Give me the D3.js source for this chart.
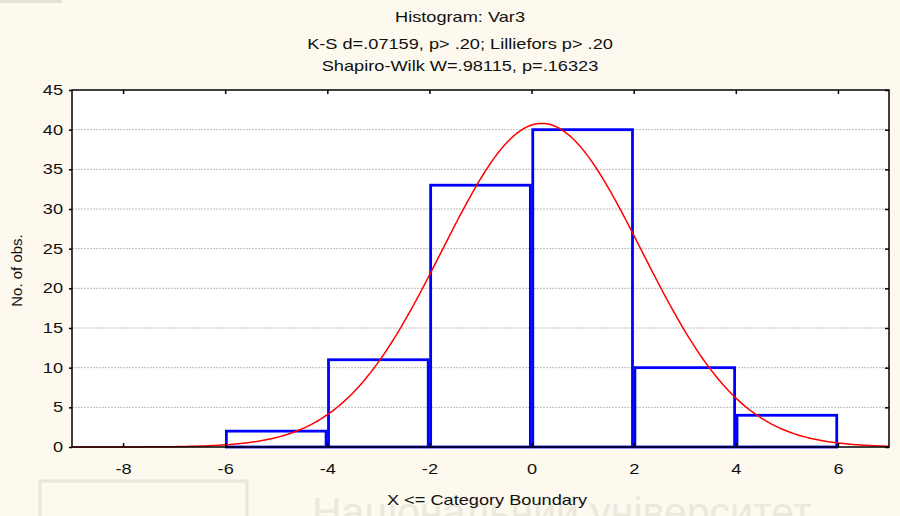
<!DOCTYPE html>
<html>
<head>
<meta charset="utf-8">
<script src="https://cdn.jsdelivr.net/npm/d3@7"></script>
<style>
  body { margin: 0; background: #fdf9ef; }
  text { font-family: "Liberation Sans", Arial, sans-serif; fill: #111; }
</style>
</head>
<body>
<script>
// histogram bins (upper boundary is the category boundary)
const binStart = [-6, -4, -2, 0, 2, 4];
const binEnd = [-4, -2, 0, 2, 4, 6];
const counts = [2, 11, 33, 40, 10, 4];

const xTicks = [-8, -6, -4, -2, 0, 2, 4, 6];
const yTicks = [0, 5, 10, 15, 20, 25, 30, 35, 40, 45];

// fitted normal curve parameters
const fitMean = 0.2;
const fitSd = 1.956;
const nObs = 100;
const binWidth = 2;

const titles = [
  'Histogram: Var3',
  'K-S d=.07159, p> .20; Lilliefors p> .20',
  'Shapiro-Wilk W=.98115, p=.16323'
];

const W = 900, H = 516;
const margin = {top: 90, right: 11, bottom: 69, left: 72};
const w = W - margin.left - margin.right;
const h = H - margin.top - margin.bottom;
// the original picture is stretched sideways, so is the text
const stretch = 1.3;

const svg = d3.select('body').append('svg')
  .attr('width', W)
  .attr('height', H);

svg.append('rect')
  .attr('x', 0).attr('y', 0).attr('width', 62).attr('height', 3)
  .attr('fill', '#e4e0d6');

// faint watermark at the bottom of the scan
const wm = svg.append('g').attr('class', 'watermark');
wm.append('rect')
  .attr('x', 40).attr('y', 481).attr('width', 207).attr('height', 60)
  .attr('fill', 'none').attr('stroke', '#ebe6da').attr('stroke-width', 3);
wm.append('text')
  .attr('x', 312).attr('y', 526)
  .style('font-size', '41px')
  .style('fill', '#ece8dd')
  .text('Національний університет');

const g = svg.append('g')
  .attr('transform', `translate(${margin.left},${margin.top})`);

const x = d3.scaleLinear().domain([-9, 7]).range([0, w]);
const y = d3.scaleLinear().domain([0, 45]).range([h, 0]);

// plot background
g.append('rect')
  .attr('width', w).attr('height', h)
  .attr('fill', '#fff');

// grid lines
g.selectAll('.grid')
  .data(yTicks.filter(d => d > 0 && d < 45))
  .enter().append('line')
  .attr('x1', 0).attr('x2', w)
  .attr('y1', d => y(d)).attr('y2', d => y(d))
  .attr('stroke', '#bdbdbd')
  .attr('stroke-width', 1)
  .attr('stroke-dasharray', '2,1');

// bars
g.selectAll('.bar')
  .data(counts)
  .enter().append('rect')
  .attr('x', (d, i) => x(binStart[i]) + 1.2)
  .attr('y', d => y(d))
  .attr('width', (d, i) => x(binEnd[i]) - x(binStart[i]) - 2.4)
  .attr('height', d => y(0) - y(d))
  .attr('fill', 'none')
  .attr('stroke', '#0000ff')
  .attr('stroke-width', 2.8);

// normal fit
const curveX = d3.range(-9, 7.001, 0.05);
const normal = v => nObs * binWidth / (fitSd * Math.sqrt(2 * Math.PI)) *
  Math.exp(-0.5 * Math.pow((v - fitMean) / fitSd, 2));

g.append('path')
  .datum(curveX)
  .attr('fill', 'none')
  .attr('stroke', '#ff0000')
  .attr('stroke-width', 1.5)
  .attr('d', d3.line().x(d => x(d)).y(d => y(normal(d))));

// axes
g.append('g')
  .attr('transform', `translate(0,${h})`)
  .call(d3.axisBottom(x).tickValues(xTicks).tickSize(-4).tickPadding(17)
    .tickFormat(d => String(d)))
  .call(a => a.select('.domain').remove())
  .call(a => a.selectAll('text')
    .style('font-size', '14px')
    .attr('transform', `scale(${stretch},1)`));

g.append('g')
  .call(d3.axisTop(x).tickValues(xTicks).tickSize(-4).tickFormat(''))
  .call(a => a.select('.domain').remove());

g.append('g')
  .call(d3.axisLeft(y).tickValues(yTicks).tickSize(3).tickPadding(5))
  .call(a => a.select('.domain').remove())
  .call(a => a.selectAll('text')
    .style('font-size', '14px')
    .attr('x', -9 / stretch)
    .attr('transform', `scale(${stretch},1)`));

g.append('g')
  .attr('transform', `translate(${w},0)`)
  .call(d3.axisRight(y).tickValues(yTicks).tickSize(-4).tickFormat(''))
  .call(a => a.select('.domain').remove());

g.selectAll('.tick line').attr('stroke', '#000').attr('stroke-width', 1.5);

// frame
g.append('rect')
  .attr('width', w).attr('height', h)
  .attr('fill', 'none')
  .attr('stroke', '#000')
  .attr('stroke-width', 1.5);

// titles
svg.selectAll('.title')
  .data(titles)
  .enter().append('text')
  .attr('transform', (d, i) => `translate(460,${[22, 49, 71][i]})scale(${stretch},1)`)
  .attr('text-anchor', 'middle')
  .style('font-size', '14px')
  .text(d => d);

// axis labels
svg.append('text')
  .attr('transform', `translate(487,505)scale(${stretch},1)`)
  .attr('text-anchor', 'middle')
  .style('font-size', '14px')
  .text('X <= Category  Boundary');

svg.append('text')
  .attr('transform', `translate(22,${margin.top + h / 2 + 2})rotate(-90)`)
  .attr('text-anchor', 'middle')
  .style('font-size', '15px')
  .text('No. of obs.');
</script>
</body>
</html>
